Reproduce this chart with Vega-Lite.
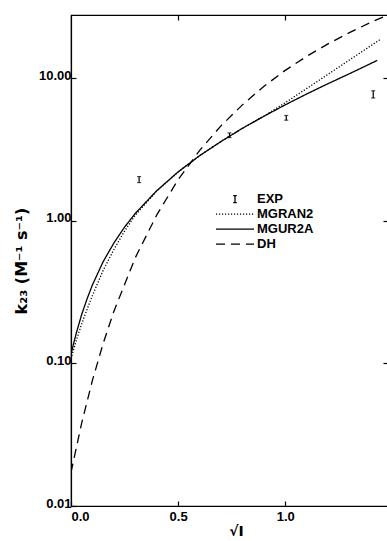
{
  "$schema": "https://vega.github.io/schema/vega-lite/v6.json",
  "width": 317,
  "height": 491,
  "autosize": {"type": "none"},
  "padding": {"left": 71, "top": 15, "right": 0, "bottom": 35},
  "background": "white",
  "config": {
    "view": {"stroke": "black", "strokeWidth": 1.2},
    "font": "Liberation Sans",
    "axis": {
      "grid": false,
      "domainColor": "black",
      "domainWidth": 1.2,
      "tickColor": "black",
      "tickWidth": 1.2,
      "tickSize": -5,
      "labelColor": "black",
      "labelFont": "Liberation Sans",
      "labelFontSize": 13,
      "labelFontWeight": "bold",
      "titleColor": "black",
      "titleFont": "DejaVu Sans",
      "titleFontWeight": "bold"
    }
  },
  "datasets": {
    "curves": [
      {"series": "MGUR2A", "s": 0, "k": 0.116},
      {"series": "MGUR2A", "s": 0.01, "k": 0.134},
      {"series": "MGUR2A", "s": 0.025, "k": 0.164},
      {"series": "MGUR2A", "s": 0.05, "k": 0.221},
      {"series": "MGUR2A", "s": 0.075, "k": 0.284},
      {"series": "MGUR2A", "s": 0.1, "k": 0.356},
      {"series": "MGUR2A", "s": 0.15, "k": 0.518},
      {"series": "MGUR2A", "s": 0.2, "k": 0.7},
      {"series": "MGUR2A", "s": 0.25, "k": 0.906},
      {"series": "MGUR2A", "s": 0.3, "k": 1.13},
      {"series": "MGUR2A", "s": 0.4, "k": 1.63},
      {"series": "MGUR2A", "s": 0.5, "k": 2.21},
      {"series": "MGUR2A", "s": 0.6, "k": 2.87},
      {"series": "MGUR2A", "s": 0.7, "k": 3.61},
      {"series": "MGUR2A", "s": 0.8, "k": 4.47},
      {"series": "MGUR2A", "s": 0.9, "k": 5.43},
      {"series": "MGUR2A", "s": 1.0, "k": 6.53},
      {"series": "MGUR2A", "s": 1.1, "k": 7.78},
      {"series": "MGUR2A", "s": 1.2, "k": 9.2},
      {"series": "MGUR2A", "s": 1.3, "k": 10.8},
      {"series": "MGUR2A", "s": 1.43, "k": 13.4},
      {"series": "MGRAN2", "s": 0, "k": 0.108},
      {"series": "MGRAN2", "s": 0.01, "k": 0.122},
      {"series": "MGRAN2", "s": 0.025, "k": 0.146},
      {"series": "MGRAN2", "s": 0.05, "k": 0.19},
      {"series": "MGRAN2", "s": 0.075, "k": 0.24},
      {"series": "MGRAN2", "s": 0.1, "k": 0.3},
      {"series": "MGRAN2", "s": 0.15, "k": 0.45},
      {"series": "MGRAN2", "s": 0.2, "k": 0.63},
      {"series": "MGRAN2", "s": 0.25, "k": 0.85},
      {"series": "MGRAN2", "s": 0.3, "k": 1.1},
      {"series": "MGRAN2", "s": 0.4, "k": 1.62},
      {"series": "MGRAN2", "s": 0.5, "k": 2.21},
      {"series": "MGRAN2", "s": 0.6, "k": 2.87},
      {"series": "MGRAN2", "s": 0.7, "k": 3.61},
      {"series": "MGRAN2", "s": 0.8, "k": 4.47},
      {"series": "MGRAN2", "s": 0.9, "k": 5.43},
      {"series": "MGRAN2", "s": 1.0, "k": 6.76},
      {"series": "MGRAN2", "s": 1.1, "k": 8.5},
      {"series": "MGRAN2", "s": 1.2, "k": 10.7},
      {"series": "MGRAN2", "s": 1.3, "k": 13.5},
      {"series": "MGRAN2", "s": 1.444, "k": 18.8},
      {"series": "DH", "s": 0, "k": 0.0172},
      {"series": "DH", "s": 0.05, "k": 0.0383},
      {"series": "DH", "s": 0.1, "k": 0.0761},
      {"series": "DH", "s": 0.15, "k": 0.138},
      {"series": "DH", "s": 0.2, "k": 0.232},
      {"series": "DH", "s": 0.3, "k": 0.552},
      {"series": "DH", "s": 0.4, "k": 1.1},
      {"series": "DH", "s": 0.5, "k": 1.95},
      {"series": "DH", "s": 0.6, "k": 3.12},
      {"series": "DH", "s": 0.7, "k": 4.65},
      {"series": "DH", "s": 0.8, "k": 6.53},
      {"series": "DH", "s": 0.9, "k": 8.8},
      {"series": "DH", "s": 1.0, "k": 11.4},
      {"series": "DH", "s": 1.1, "k": 14.3},
      {"series": "DH", "s": 1.2, "k": 17.5},
      {"series": "DH", "s": 1.3, "k": 21.0},
      {"series": "DH", "s": 1.4, "k": 24.8},
      {"series": "DH", "s": 1.48, "k": 27.9}
    ],
    "exp": [
      {"s": 0.318, "k": 1.95, "lo": 1.86, "hi": 2.05},
      {"s": 0.74, "k": 4.0, "lo": 3.85, "hi": 4.15},
      {"s": 1.005, "k": 5.3, "lo": 5.1, "hi": 5.5},
      {"s": 1.411, "k": 7.7, "lo": 7.3, "hi": 8.2}
    ]
  },
  "layer": [
    {
      "data": {"name": "curves"},
      "mark": {"type": "line", "color": "black", "strokeWidth": 1.3, "clip": true},
      "encoding": {
        "x": {
          "field": "s", "type": "quantitative",
          "scale": {"domain": [0, 1.48], "nice": false, "zero": false},
          "axis": {"orient": "bottom", "values": [0, 0.5, 1], "format": ".1f", "labelPadding": 9, "title": "√I", "titleFontSize": 14, "titlePadding": 1, "titleX": 165}
        },
        "y": {
          "field": "k", "type": "quantitative",
          "scale": {"type": "log", "domain": [0.01, 27.9], "nice": false},
          "axis": {"orient": "left", "values": [0.01, 0.1, 1, 10], "format": ".2f", "labelPadding": 5, "labelBaseline": "alphabetic", "labelOffset": 1, "title": "k₂₃ (M⁻¹ s⁻¹)", "titleFontSize": 16, "titlePadding": 9}
        },
        "strokeDash": {
          "field": "series", "type": "nominal",
          "scale": {"domain": ["EXP", "MGRAN2", "MGUR2A", "DH"], "range": [[1, 0], [1.2, 1.8], [1, 0], [9, 6]]},
          "legend": {
            "orient": "none", "legendX": 144, "legendY": 177, "title": null,
            "symbolType": "stroke", "symbolSize": 1444, "symbolStrokeWidth": 1.3, "symbolStrokeColor": "black",
            "labelFont": "Liberation Sans", "labelFontSize": 13, "labelFontWeight": "bold", "labelColor": "black",
            "labelOffset": 2, "clipHeight": 14.3, "rowPadding": 0,
            "encode": {
              "symbols": {
                "update": {
                  "shape": {"signal": "datum.value === 'EXP' ? 'M0,-1L0,1M-0.5,-1L0.5,-1M-0.5,1L0.5,1' : 'stroke'"},
                  "size": {"signal": "datum.value === 'EXP' ? 49 : 1444"}
                }
              }
            }
          }
        }
      }
    },
    {
      "data": {"name": "exp"},
      "mark": {"type": "rule", "color": "black", "strokeWidth": 1.2},
      "encoding": {
        "x": {
          "field": "s", "type": "quantitative",
          "scale": {"domain": [0, 1.48], "nice": false, "zero": false},
          "axis": {"orient": "top", "values": [0.5, 1], "labels": false, "title": null}
        },
        "y": {
          "field": "lo", "type": "quantitative",
          "scale": {"type": "log", "domain": [0.01, 27.9], "nice": false},
          "axis": {"orient": "right", "values": [0.1, 1, 10], "labels": false, "title": null}
        },
        "y2": {"field": "hi"}
      }
    },
    {
      "data": {"name": "exp"},
      "mark": {"type": "tick", "orient": "horizontal", "size": 4, "thickness": 1.2, "color": "black"},
      "encoding": {
        "x": {"field": "s", "type": "quantitative", "scale": {"domain": [0, 1.48], "nice": false, "zero": false}, "axis": null},
        "y": {"field": "lo", "type": "quantitative", "scale": {"type": "log", "domain": [0.01, 27.9], "nice": false}, "axis": null}
      }
    },
    {
      "data": {"name": "exp"},
      "mark": {"type": "tick", "orient": "horizontal", "size": 4, "thickness": 1.2, "color": "black"},
      "encoding": {
        "x": {"field": "s", "type": "quantitative", "scale": {"domain": [0, 1.48], "nice": false, "zero": false}, "axis": null},
        "y": {"field": "hi", "type": "quantitative", "scale": {"type": "log", "domain": [0.01, 27.9], "nice": false}, "axis": null}
      }
    }
  ],
  "resolve": {"axis": {"x": "independent", "y": "independent"}}
}
